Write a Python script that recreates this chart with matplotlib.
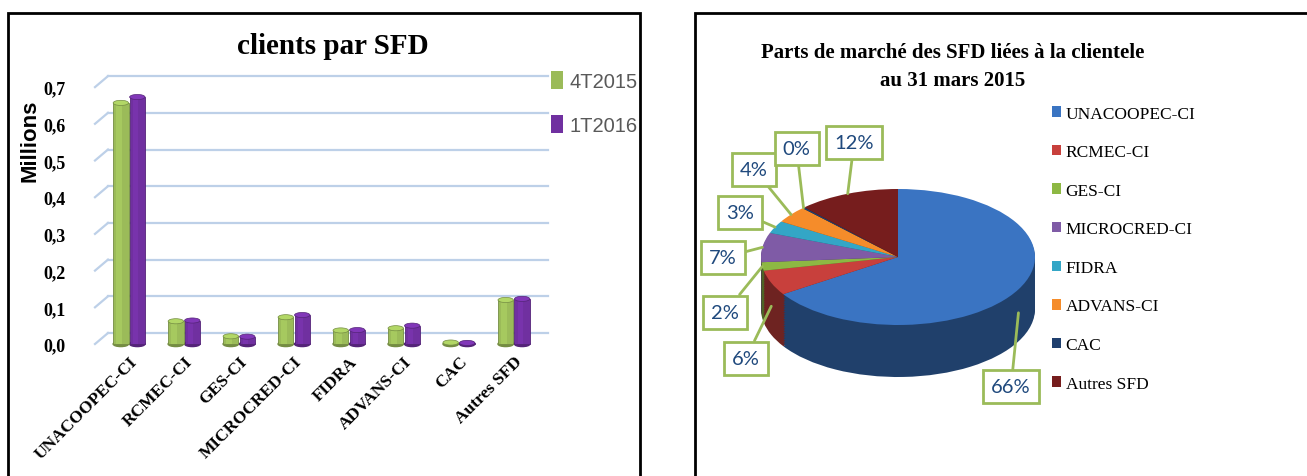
import matplotlib
matplotlib.use('Agg')
import matplotlib.pyplot as plt
from matplotlib.patches import Rectangle, Ellipse, Patch
import matplotlib.colors as mcolors
import numpy as np

# ---- data ----
categories = ['UNACOOPEC-CI', 'RCMEC-CI', 'GES-CI', 'MICROCRED-CI',
              'FIDRA', 'ADVANS-CI', 'CAC', 'Autres SFD']
clients_4t2015 = [0.657, 0.062, 0.021, 0.073, 0.037, 0.043, 0.004, 0.120]
clients_1t2016 = [0.673, 0.064, 0.020, 0.079, 0.038, 0.050, 0.003, 0.123]
series_names = ['4T2015', '1T2016']
yticks = [0.0, 0.1, 0.2, 0.3, 0.4, 0.5, 0.6, 0.7]

pie_labels = categories
pie_shares = [66, 6, 2, 7, 3, 4, 0.3, 12]
pie_texts = ['66%', '6%', '2%', '7%', '3%', '4%', '0%', '12%']

# ---- style ----
W, H = 1307, 477
SERIF = 'Liberation Serif'
GREEN = '#9BBB59'
PURPLE = '#7030A0'
GRID = '#BDD0E8'
pie_colors = ['#3A74C2', '#C8403C', '#8DB843', '#7F5BA6',
              '#33A6C6', '#F58C2A', '#1F3F6E', '#761D1D']


def px_rect(l, t, r, b):
    return [l / W, 1 - b / H, (r - l) / W, (b - t) / H]


fig = plt.figure(figsize=(W / 100, H / 100), dpi=100)

# panel frames
for l, t, r in [(8, 14, 640), (695, 14, 1312)]:
    fig.add_artist(Rectangle((l / W, -0.05), (r - l) / W, 1.05 - t / H,
                             transform=fig.transFigure, fill=False,
                             ec='black', lw=2))

# ================= left: bar chart =================
ax = fig.add_axes(px_rect(95, 76, 548, 350))
x = np.arange(len(categories))
xmin, xmax = -0.62, 7.62
ymin, ymax = -0.0136, 0.733
ax.set_xlim(xmin, xmax)
ax.set_ylim(ymin, ymax)
for s in ax.spines.values():
    s.set_visible(False)

# back wall gridlines with a small perspective offset
dx, dy = 13 / 55, 11 / 367
for v in yticks:
    ax.plot([xmin + dx, xmax], [v + dy, v + dy], color=GRID, lw=1.6,
            clip_on=False, zorder=1)
    ax.plot([xmin, xmin + dx], [v, v + dy], color=GRID, lw=1.6,
            clip_on=False, zorder=1)

bw = 0.28
for vals, off, col in [(clients_4t2015, -0.15, GREEN),
                       (clients_1t2016, 0.15, PURPLE)]:
    dark = np.array(mcolors.to_rgb(col)) * 0.75
    light = np.clip(np.array(mcolors.to_rgb(col)) * 1.15, 0, 1)
    ax.bar(x + off, vals, width=bw, color=col, zorder=3, edgecolor=dark,
           linewidth=0.6)
    # highlight stripe + top cap for cylinder look
    ax.bar(x + off - bw * 0.12, vals, width=bw * 0.35, color=light,
           alpha=0.5, zorder=4, linewidth=0)
    for xi, v in zip(x + off, vals):
        ax.add_patch(Ellipse((xi, v), bw, 0.014, color=light, zorder=5,
                             ec=dark, lw=0.5))
        ax.add_patch(Ellipse((xi, 0), bw, 0.014, color=dark, zorder=2))

ax.set_yticks(yticks)
ax.set_yticklabels([f'{v:.1f}'.replace('.', ',') for v in yticks],
                   fontfamily=SERIF, fontweight='bold', fontsize=13)
ax.tick_params(axis='y', length=0, pad=21)
ax.set_xticks(x)
ax.set_xticklabels(categories, rotation=45, ha='right',
                   rotation_mode='anchor', fontfamily=SERIF,
                   fontweight='bold', fontsize=12.5)
ax.tick_params(axis='x', length=0, pad=3)

fig.text(30 / W, 1 - 141 / H, 'Millions', rotation=90, ha='center',
         va='center', fontsize=16, fontweight='bold',
         fontfamily='Liberation Sans')
fig.text(333 / W, 1 - 47 / H, 'clients par SFD', ha='center', va='center',
         fontsize=21, fontweight='bold', fontfamily=SERIF)

leg = ax.legend([Patch(facecolor=GREEN), Patch(facecolor=PURPLE)],
                series_names, loc='upper left',
                bbox_to_anchor=(533 / W, 1 - 54 / H),
                bbox_transform=fig.transFigure, frameon=False,
                handlelength=0.6, handleheight=1.0, handletextpad=0.3,
                labelspacing=1.2, prop={'family': 'Liberation Sans',
                                        'size': 14.5})
for t in leg.get_texts():
    t.set_color('#595959')

# ================= right: 3D-looking pie =================
cx, cy, rx, ry = 898, 258, 137, 68
pax = fig.add_axes(px_rect(cx - 1.2 * rx, cy - 1.2 * ry,
                           cx + 1.2 * rx, cy + 2.0 * ry))

depth = 52 / ry
side_cols = [tuple(np.array(mcolors.to_rgb(c)) * 0.55) for c in pie_colors]
for d in np.linspace(depth, 0.02, 30):
    pax.pie(pie_shares, colors=side_cols, startangle=90,
            counterclock=False, center=(0, -d), frame=True,
            wedgeprops={'linewidth': 0})
pax.pie(pie_shares, colors=pie_colors, startangle=90, counterclock=False,
        frame=True, wedgeprops={'linewidth': 0})
pax.set_xlim(-1.2, 1.2)
pax.set_ylim(-2.0, 1.2)
pax.set_aspect('auto')
pax.axis('off')

# label boxes (layout positions in pie units)
label_pos = [(0.825, -1.91), (-1.11, -1.49), (-1.26, -0.81), (-1.28, -0.01),
             (-1.15, 0.66), (-1.05, 1.29), (-0.74, 1.59), (-0.32, 1.69)]
cum = np.cumsum([0] + pie_shares)
total = cum[-1]
for i, txt in enumerate(pie_texts):
    mid = np.deg2rad(90 - 360 * (cum[i] + cum[i + 1]) / 2 / total)
    ax_, ay_ = np.cos(mid), np.sin(mid)
    if ay_ < -0.3:
        ay_ -= depth * 0.45
    pax.annotate(txt, xy=(ax_, ay_), xytext=label_pos[i], ha='center',
                 va='center', fontsize=14.5, color='#1F497D',
                 fontfamily='Lato', annotation_clip=False,
                 bbox=dict(boxstyle='square,pad=0.4', fc='white',
                           ec=GREEN, lw=2),
                 arrowprops=dict(arrowstyle='-', color=GREEN, lw=2,
                                 shrinkA=0, shrinkB=0))

fig.text(953 / W, 1 - 67 / H,
         'Parts de marché des SFD liées à la clientele\nau 31 mars 2015',
         ha='center', va='center', fontsize=15, fontweight='bold',
         fontfamily=SERIF, linespacing=1.5)

handles = [Patch(facecolor=c) for c in pie_colors]
fig.legend(handles, pie_labels, loc='upper left',
           bbox_to_anchor=(1036 / W, 1 - 91 / H), frameon=False,
           handlelength=0.55, handleheight=0.55, handletextpad=0.25,
           labelspacing=1.3, prop={'family': SERIF, 'size': 12.5})

fig.savefig('out.png', dpi=100)
